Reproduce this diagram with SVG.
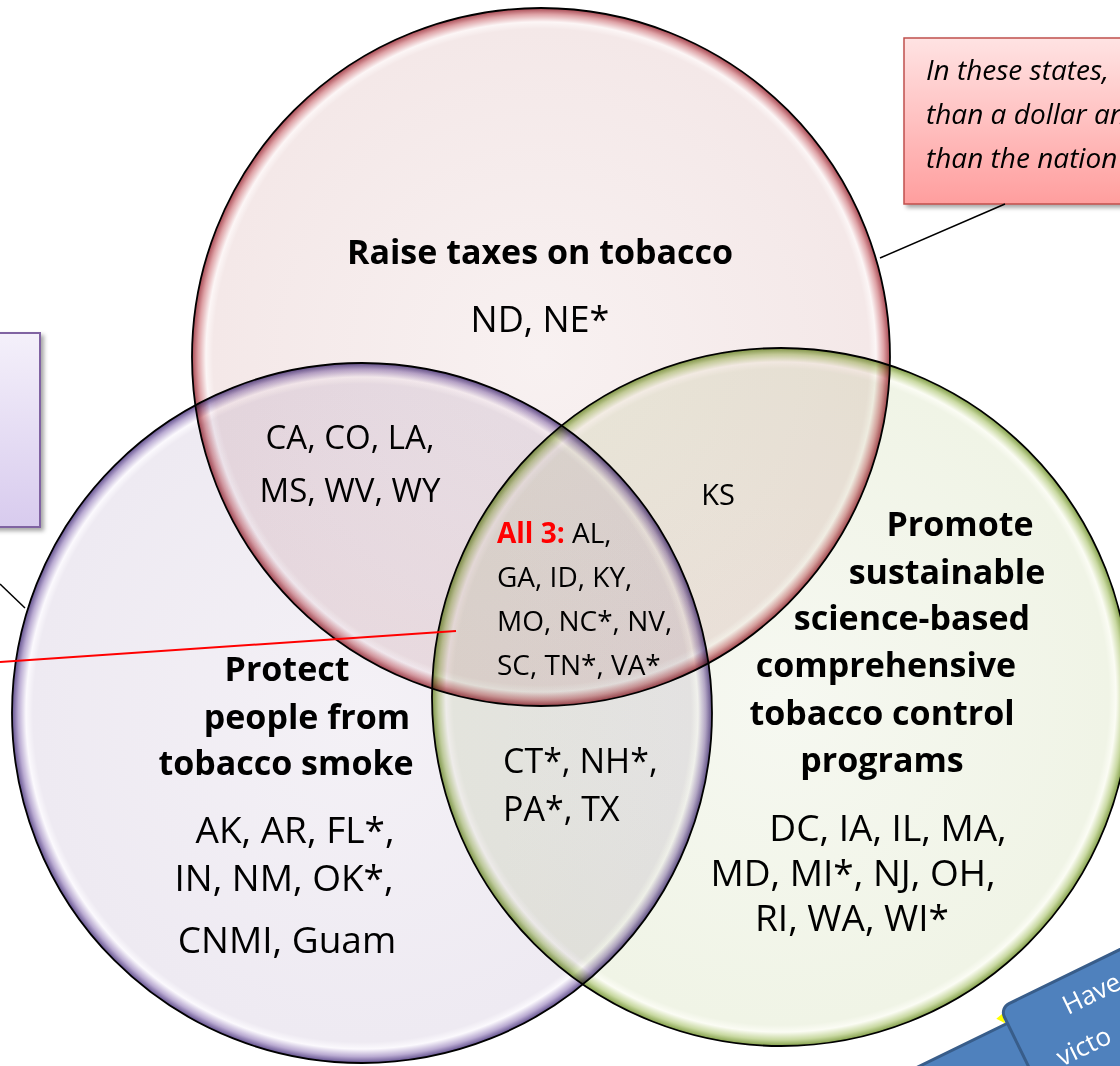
<svg xmlns="http://www.w3.org/2000/svg" width="1120" height="1066" viewBox="0 0 1120 1066">
<style>
.t{font-family:"Open Sans","Liberation Sans",sans-serif;fill:#000;text-anchor:middle}
.b{font-weight:bold;font-size:34px}
.r{font-size:37px}
.s{font-size:33px}
.a{font-size:28px;text-anchor:start}
.c{font-family:"Open Sans","Liberation Sans",sans-serif;font-style:italic;font-size:28px;fill:#000}
.w{font-family:"Open Sans","Liberation Sans",sans-serif;font-size:26px;fill:#fff;text-anchor:start}
.circ{stroke:#000;stroke-width:1.8;mix-blend-mode:multiply}
.ln{stroke:#000;stroke-width:1.5;fill:none}
</style>
<defs>
<radialGradient id="gR">
<stop offset="0" stop-color="#f8f1f1"/>
<stop offset="0.94" stop-color="#f4e8e8"/>
<stop offset="0.96" stop-color="#fcf6f6"/>
<stop offset="0.982" stop-color="#dea2a6"/>
<stop offset="1" stop-color="#a84852"/>
</radialGradient>
<radialGradient id="gP">
<stop offset="0" stop-color="#f4f1f6"/>
<stop offset="0.94" stop-color="#eeeaf2"/>
<stop offset="0.96" stop-color="#fbf9fd"/>
<stop offset="0.982" stop-color="#baabd2"/>
<stop offset="1" stop-color="#62508e"/>
</radialGradient>
<radialGradient id="gG">
<stop offset="0" stop-color="#f6f8f1"/>
<stop offset="0.94" stop-color="#f0f4e6"/>
<stop offset="0.96" stop-color="#fbfcf4"/>
<stop offset="0.982" stop-color="#c9d9a2"/>
<stop offset="1" stop-color="#84a04a"/>
</radialGradient>
<linearGradient id="gBoxR" x1="0" y1="0" x2="0" y2="1">
<stop offset="0" stop-color="#ffe3e3"/>
<stop offset="1" stop-color="#ff9e9e"/>
</linearGradient>
<linearGradient id="gBoxP" x1="0" y1="0" x2="0" y2="1">
<stop offset="0" stop-color="#f4f0fa"/>
<stop offset="1" stop-color="#d8cbee"/>
</linearGradient>
<filter id="sh" x="-10%" y="-10%" width="130%" height="130%">
<feDropShadow dx="3" dy="3" stdDeviation="2" flood-color="#000" flood-opacity="0.35"/>
</filter>
</defs>
<rect width="1120" height="1066" fill="#fff"/>

<g id="circles">
<circle id="node-protect" class="circ" cx="362" cy="713" r="350" fill="url(#gP)"/>
<circle id="node-programs" class="circ" cx="781" cy="697" r="349" fill="url(#gG)"/>
<circle id="node-taxes" class="circ" cx="541" cy="357" r="349" fill="url(#gR)"/>
</g>

<g id="callout-top">
<rect x="904" y="38" width="240" height="166" fill="url(#gBoxR)" stroke="#c0504d" stroke-width="1.5" filter="url(#sh)"/>
<text class="c" x="926" y="80">In these states,</text>
<text class="c" x="926" y="124">than a dollar an</text>
<text class="c" x="926" y="168">than the nation</text>
</g>

<g id="callout-left">
<rect x="-10" y="333" width="50" height="194" fill="url(#gBoxP)" stroke="#8064a2" stroke-width="2" filter="url(#sh)"/>
</g>

<g id="connectors">
<line class="ln" x1="1005" y1="204" x2="880" y2="258"/>
<line class="ln" x1="0" y1="584" x2="25" y2="608"/>
<line x1="0" y1="662" x2="456" y2="631" stroke="#ff0000" stroke-width="2"/>
</g>

<g id="label-taxes">
<text class="t b" x="540" y="264">Raise taxes on tobacco</text>
<text class="t" x="540" y="332" style="font-size:36px">ND, NE*</text>
</g>
<g id="label-taxes-protect">
<text class="t s" x="350" y="449">CA, CO, LA,</text>
<text class="t s" x="350" y="502">MS, WV, WY</text>
</g>
<g id="label-taxes-programs">
<text class="t" x="718" y="505" style="font-size:29px">KS</text>
</g>
<g id="label-all3">
<text class="t a" x="497" y="543"><tspan fill="#ff0000" font-weight="bold">All 3:</tspan> AL,</text>
<text class="t a" x="497" y="587">GA, ID, KY,</text>
<text class="t a" x="497" y="631">MO, NC*, NV,</text>
<text class="t a" x="497" y="675">SC, TN*, VA*</text>
</g>
<g id="label-programs">
<text class="t b" x="960" y="536">Promote</text>
<text class="t b" x="947" y="584">sustainable</text>
<text class="t b" x="912" y="630">science-based</text>
<text class="t b" x="886" y="677">comprehensive</text>
<text class="t b" x="882" y="725">tobacco control</text>
<text class="t b" x="882" y="772">programs</text>
<text class="t r" x="888" y="841">DC, IA, IL, MA,</text>
<text class="t r" x="853" y="886">MD, MI*, NJ, OH,</text>
<text class="t r" x="852" y="931">RI, WA, WI*</text>
</g>
<g id="label-protect">
<text class="t b" x="287" y="681">Protect</text>
<text class="t b" x="307" y="729">people from</text>
<text class="t b" x="286" y="775">tobacco smoke</text>
<text class="t r" x="295" y="843">AK, AR, FL*,</text>
<text class="t r" x="284" y="891">IN, NM, OK*,</text>
<text class="t r" x="287" y="953">CNMI, Guam</text>
</g>
<g id="label-protect-programs">
<text class="t" x="503" y="773" style="text-anchor:start;font-size:34px">CT*, NH*,</text>
<text class="t" x="503" y="821" style="text-anchor:start;font-size:34px">PA*, TX</text>
</g>

<g id="blue-note">
<g transform="translate(1000,1008) rotate(-26)">
<rect x="-320" y="17" width="430" height="200" rx="10" fill="#4f81bd" stroke="#385d8a" stroke-width="3"/>
<polygon points="-8,8 0,6 -2,16" fill="#ffff00"/>
<rect x="0" y="0" width="260" height="200" rx="10" fill="#4f81bd" stroke="#385d8a" stroke-width="3"/>
<text class="w" x="58" y="36">Have</text>
<text class="w" x="30" y="80">victo</text>
</g>
</g>
</svg>
